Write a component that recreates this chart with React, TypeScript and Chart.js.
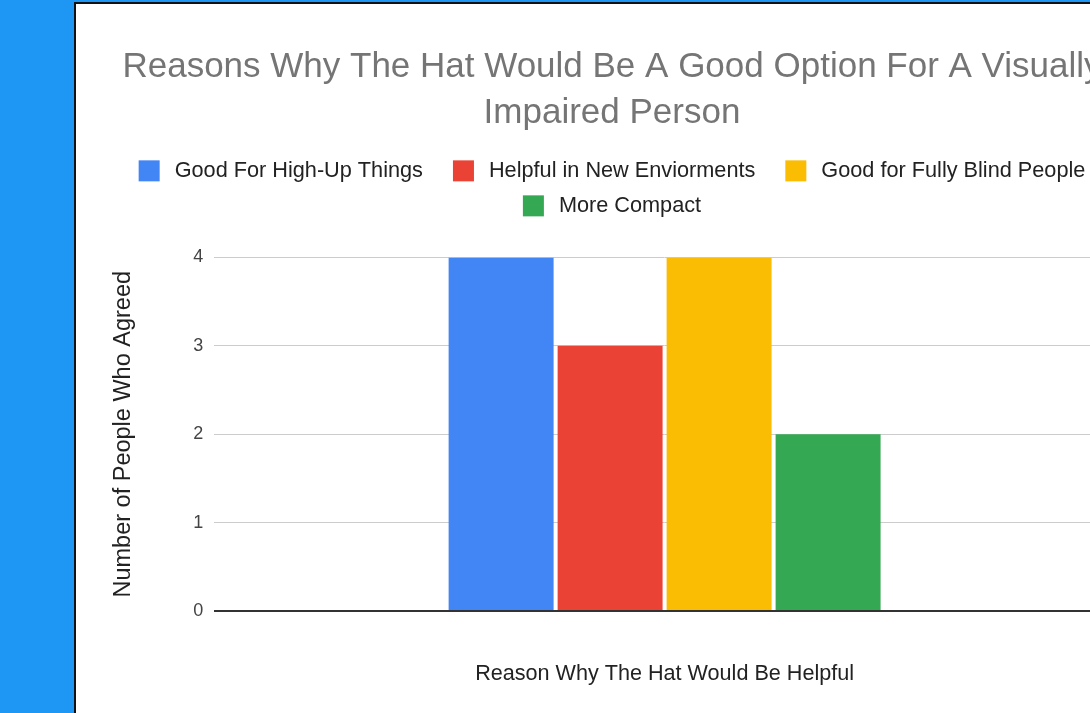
import React, { useEffect, useRef } from "react";
import { Chart, registerables } from "chart.js";

Chart.register(...registerables);

const categories: string[] = [""];
const seriesNames: string[] = [
  "Good For High-Up Things",
  "Helpful in New Enviorments",
  "Good for Fully Blind People",
  "More Compact",
];
const highUp: number[] = [4];
const newEnviorments: number[] = [3];
const fullyBlind: number[] = [4];
const moreCompact: number[] = [2];
const seriesColors: string[] = ["#4285F4", "#EA4335", "#FBBC04", "#34A853"];
const yTicks: number[] = [0, 1, 2, 3, 4];

const titleLines: string[] = [
  "Reasons Why The Hat Would Be A Good Option For A Visually",
  "Impaired Person",
];
const xTitle = "Reason Why The Hat Would Be Helpful";
const yTitle = "Number of People Who Agreed";

const FONT = "'Liberation Sans', Arial, sans-serif";
const LEGEND_FONT_SIZE = 21.7;
const LEGEND_BOX = 21;
const LEGEND_TEXT_GAP = 15;
const LEGEND_ITEM_GAP = 30;
const LEGEND_ROW_H = 35;

const legendPlugin = {
  id: "legendCustom",
  beforeLayout(chart: any) {
    const l: any = chart.legend;
    if (l && !l._patched) {
      const fit = l.fit.bind(l);
      l.fit = function () {
        fit();
        this.height += 29;
      };
      l.draw = function () {
        const ctx: CanvasRenderingContext2D = this.ctx;
        const items: any[] = this.legendItems || [];
        ctx.save();
        ctx.font = `${LEGEND_FONT_SIZE}px ${FONT}`;
        ctx.textBaseline = "middle";
        ctx.textAlign = "left";
        const maxW = this.right - this.left;
        const rows: { item: any; w: number }[][] = [[]];
        const rowW: number[] = [0];
        items.forEach((it) => {
          const w = LEGEND_BOX + LEGEND_TEXT_GAP + ctx.measureText(it.text).width;
          const r = rows.length - 1;
          const add = rows[r].length ? LEGEND_ITEM_GAP + w : w;
          if (rows[r].length && rowW[r] + add > maxW) {
            rows.push([{ item: it, w }]);
            rowW.push(w);
          } else {
            rows[r].push({ item: it, w });
            rowW[r] += add;
          }
        });
        const cx = (this.left + this.right) / 2;
        let y = this.top + 15 + LEGEND_FONT_SIZE / 2;
        rows.forEach((row, ri) => {
          let x = cx - rowW[ri] / 2;
          row.forEach(({ item, w }) => {
            ctx.fillStyle = item.fillStyle;
            ctx.fillRect(x, y - LEGEND_BOX / 2, LEGEND_BOX, LEGEND_BOX);
            ctx.fillStyle = "#222222";
            ctx.fillText(item.text, x + LEGEND_BOX + LEGEND_TEXT_GAP, y);
            x += w + LEGEND_ITEM_GAP;
          });
          y += LEGEND_ROW_H;
        });
        ctx.restore();
      };
      l._patched = true;
    }
  },
};

export default function App() {
  const ref = useRef<HTMLCanvasElement | null>(null);
  useEffect(() => {
    if (!ref.current) return;
    const values = [highUp, newEnviorments, fullyBlind, moreCompact];
    const chart = new Chart(ref.current, {
      type: "bar",
      data: {
        labels: categories,
        datasets: seriesNames.map((name, i) => ({
          label: name,
          data: values[i],
          backgroundColor: seriesColors[i],
          borderWidth: 0,
          categoryPercentage: 0.484,
          barPercentage: 0.963,
        })),
      },
      options: {
        animation: false,
        responsive: true,
        maintainAspectRatio: false,
        layout: { padding: { top: 31, left: 33, right: 33, bottom: 22 } },
        plugins: {
          title: {
            display: true,
            text: titleLines,
            color: "#757575",
            font: { family: FONT, size: 35, weight: "normal", lineHeight: 1.3 },
            padding: { top: 10, bottom: 9 },
          },
          legend: {
            display: true,
            position: "top",
            labels: {
              color: "#222222",
              font: { family: FONT, size: LEGEND_FONT_SIZE },
              boxWidth: LEGEND_BOX,
              boxHeight: LEGEND_BOX,
              padding: 15,
            },
          },
          tooltip: { enabled: false },
        },
        scales: {
          x: {
            grid: { display: false, drawTicks: false },
            border: { display: false },
            ticks: { display: false },
            title: {
              display: true,
              text: xTitle,
              color: "#222222",
              font: { family: FONT, size: 21.6 },
              padding: { top: 50, bottom: 4 },
            },
          },
          y: {
            min: 0,
            max: 4,
            afterBuildTicks: (axis: any) => {
              axis.ticks = yTicks.map((v) => ({ value: v }));
            },
            grid: {
              color: (ctx: any) => (ctx.tick && ctx.tick.value === 0 ? "#333333" : "#cccccc"),
              lineWidth: (ctx: any) => (ctx.tick && ctx.tick.value === 0 ? 2 : 1),
              drawTicks: false,
            },
            border: { display: false },
            ticks: {
              color: "#444444",
              font: { family: FONT, size: 18 },
              padding: 11,
            },
            title: {
              display: true,
              text: yTitle,
              color: "#222222",
              font: { family: FONT, size: 23.5 },
              padding: { top: 0, bottom: 45 },
            },
          },
        },
      },
      plugins: [legendPlugin],
    });
    return () => chart.destroy();
  }, []);

  return (
    <div
      style={{
        position: "fixed",
        left: 0,
        top: 0,
        width: "100vw",
        height: "100vh",
        overflow: "hidden",
        background: "#1e96f3",
      }}
    >
      <div
        style={{
          position: "absolute",
          left: 74,
          top: 2,
          width: 1200,
          height: 800,
          background: "#ffffff",
          borderLeft: "2px solid #111",
          borderTop: "2px solid #111",
        }}
      >
        <div style={{ position: "absolute", left: 0, top: 0, width: 1072, height: 709 }}>
          <canvas ref={ref} />
        </div>
      </div>
    </div>
  );
}
